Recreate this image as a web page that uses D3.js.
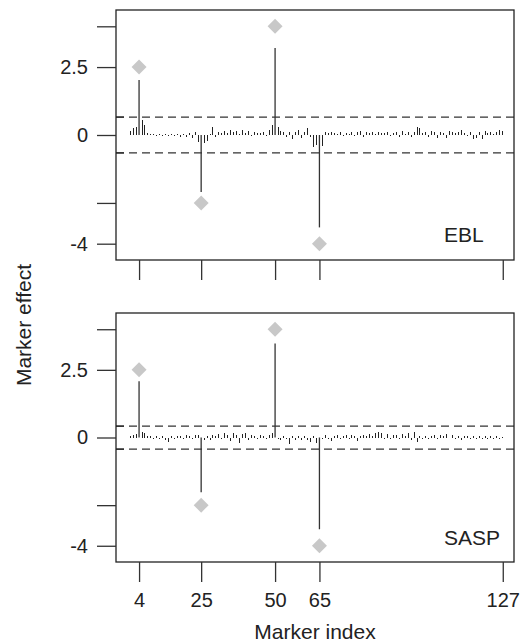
<!DOCTYPE html>
<html>
<head>
<meta charset="utf-8">
<script src="https://cdnjs.cloudflare.com/ajax/libs/d3/7.8.5/d3.min.js"></script>
<style>
  body { margin: 0; background: #fff; }
  text { font-family: "Liberation Sans", Arial, Helvetica, sans-serif; fill: #222; }
</style>
</head>
<body>
<svg id="chart" width="521" height="644"></svg>
<script>
// marker positions 1..127
const markerIndex = d3.range(1, 128);

// estimated marker effects, EBL panel
const eblEffects = [
  0.15, 0.25, 0.3, 2.02, 0.55, 0.35, 0.08, 0.05, 0.04, -0.03,
  0.03, -0.04, 0.02, -0.05, 0.03, -0.04, 0.05, -0.06, 0.04, -0.08,
  0.06, -0.1, 0.12, -0.25, -2.1, -0.3, -0.22, 0.05, 0.3, -0.08,
  0.12, 0.06, 0.15, 0.08, 0.18, 0.1, 0.16, 0.05, 0.2, 0.07,
  0.13, -0.05, 0.1, 0.06, 0.08, 0.12, -0.04, 0.18, 0.35, 3.2,
  0.3, 0.15, 0.1, -0.06, 0.12, -0.15, 0.1, 0.2, -0.1, 0.12,
  0.25, -0.08, -0.45, -0.35, -3.4, -0.4, 0.1, 0.08, 0.12, 0.06,
  0.05, 0.1, -0.04, 0.08, 0.05, 0.12, -0.05, 0.1, 0.15, -0.06,
  0.12, 0.08, 0.1, 0.05, 0.12, 0.08, 0.06, 0.1, -0.05, 0.08,
  0.12, -0.06, 0.15, 0.05, 0.1, -0.08, 0.1, 0.3, 0.25, 0.08,
  0.12, -0.06, 0.15, 0.1, -0.1, 0.12, 0.08, -0.12, 0.15, 0.1,
  0.06, 0.12, 0.2, 0.08, -0.05, 0.1, -0.15, -0.12, 0.1, -0.14,
  0.15, 0.08, 0.1, 0.05, 0.12, 0.18, 0.15
];

// estimated marker effects, SASP panel
const saspEffects = [
  0.05, 0.08, 0.12, 2.08, 0.2, 0.18, 0.05, 0.04, -0.05, 0.06,
  -0.04, 0.05, -0.08, -0.15, 0.04, -0.05, 0.06, 0.05, -0.04, 0.08,
  0.05, -0.06, 0.1, 0.08, -2.02, -0.1, 0.06, -0.08, 0.1, 0.06,
  0.12, -0.05, 0.15, 0.1, -0.12, 0.18, 0.08, -0.2, 0.12, 0.15,
  -0.1, 0.1, 0.06, -0.05, 0.08, 0.05, -0.06, 0.1, 0.15, 3.47,
  -0.05, -0.08, 0.05, -0.06, -0.25, 0.05, -0.08, 0.06, -0.1, 0.05,
  -0.08, -0.15, 0.04, -0.2, -3.39, -0.05, 0.08, -0.06, -0.12, 0.05,
  0.1, -0.04, 0.06, 0.08, -0.05, 0.1, 0.06, -0.12, 0.05, 0.08,
  0.06, 0.12, 0.04, 0.15, 0.2, 0.18, -0.05, 0.12, -0.06, 0.1,
  0.08, -0.05, 0.12, 0.06, 0.15, -0.1, 0.2, -0.15, 0.05, -0.04,
  0.06, -0.05, 0.04, 0.08, -0.04, 0.1, 0.05, 0.12, -0.03, 0.08,
  -0.05, 0.06, -0.08, 0.04, 0.05, -0.04, 0.06, -0.05, 0.04, -0.06,
  0.05, -0.04, 0.06, -0.05, 0.04, -0.05, 0.03
];

// simulated (true) QTL effects
const qtlMarkers = [4, 25, 50, 65];
const qtlTrue = [2.5, -2.5, 4, -4];

const eblThreshold = [0.66, -0.66];
const saspThreshold = [0.42, -0.43];

const yTicks = [4, 2.5, 0, -2.5, -4];
const yTickLabels = ["", "2.5", "0", "", "-4"];
const xTicks = [4, 25, 50, 65, 127];

const svg = d3.select("#chart");
const left = 116, right = 514;

const x = d3.scaleLinear().domain([-3.8, 130.8]).range([left, right]);

function drawPanel(cfg) {
  const g = svg.append("g").attr("class", "panel");
  const y = d3.scaleLinear().domain([-4.6, 4.6]).range([cfg.bottom, cfg.top]);
  const pts = cfg.effects.map((d, i) => ({ m: markerIndex[i], v: d }));

  // small effect stems
  g.append("g")
    .attr("shape-rendering", "crispEdges")
    .selectAll("line")
    .data(pts.filter(d => Math.abs(d.v) < 1))
    .enter().append("line")
      .attr("x1", d => x(d.m))
      .attr("x2", d => x(d.m))
      .attr("y1", y(0))
      .attr("y2", d => y(d.v))
      .attr("stroke", "#222")
      .attr("stroke-width", 1);

  // QTL stems
  g.append("g")
    .selectAll("line")
    .data(pts.filter(d => Math.abs(d.v) >= 1))
    .enter().append("line")
      .attr("x1", d => x(d.m))
      .attr("x2", d => x(d.m))
      .attr("y1", y(0))
      .attr("y2", d => y(d.v))
      .attr("stroke", "#333")
      .attr("stroke-width", 1.3);

  // threshold lines
  g.append("g")
    .selectAll("line")
    .data(cfg.threshold)
    .enter().append("line")
      .attr("x1", left)
      .attr("x2", right)
      .attr("y1", d => y(d))
      .attr("y2", d => y(d))
      .attr("stroke", "#333")
      .attr("stroke-width", 1.2)
      .attr("stroke-dasharray", "8,5");

  // small inner ticks at the thresholds
  g.append("g")
    .selectAll("line")
    .data(cfg.threshold)
    .enter().append("line")
      .attr("x1", left)
      .attr("x2", left + 8)
      .attr("y1", d => y(d))
      .attr("y2", d => y(d))
      .attr("stroke", "#222")
      .attr("stroke-width", 1.2);

  // true effects
  g.append("g")
    .selectAll("path")
    .data(qtlMarkers)
    .enter().append("path")
      .attr("d", d3.symbol(d3.symbolSquare, 112))
      .attr("transform", (d, i) => `translate(${x(d)},${y(qtlTrue[i])}) rotate(45)`)
      .attr("fill", "#c8c8c8");

  // box
  g.append("rect")
    .attr("x", left)
    .attr("y", cfg.top)
    .attr("width", right - left)
    .attr("height", cfg.bottom - cfg.top)
    .attr("fill", "none")
    .attr("stroke", "#222")
    .attr("stroke-width", 1.3);

  const yAxis = g.append("g")
    .attr("transform", `translate(${left},0)`)
    .call(d3.axisLeft(y).tickValues(yTicks).tickFormat((d, i) => yTickLabels[i]).tickSize(19).tickPadding(9));
  yAxis.select(".domain").remove();
  yAxis.selectAll("line").attr("stroke", "#333").attr("stroke-width", 1.3);
  yAxis.selectAll("text").attr("font-size", 20).attr("fill", "#222");

  const xAxis = g.append("g")
    .attr("transform", `translate(0,${cfg.bottom})`)
    .call(d3.axisBottom(x).tickValues(xTicks).tickSize(20).tickPadding(11)
      .tickFormat(cfg.xLabels ? d => d : ""));
  xAxis.select(".domain").remove();
  xAxis.selectAll("line").attr("stroke", "#333").attr("stroke-width", 1.3);
  xAxis.selectAll("text").attr("font-size", 20).attr("fill", "#222");

  g.append("text")
    .attr("x", 444)
    .attr("y", cfg.labelY)
    .attr("font-size", 21)
    .text(cfg.label);
}

drawPanel({ effects: eblEffects, threshold: eblThreshold, top: 10, bottom: 260, label: "EBL", labelY: 242, xLabels: false });
drawPanel({ effects: saspEffects, threshold: saspThreshold, top: 313, bottom: 562, label: "SASP", labelY: 545, xLabels: true });

svg.append("text")
  .attr("x", 315)
  .attr("y", 639)
  .attr("text-anchor", "middle")
  .attr("font-size", 21)
  .text("Marker index");

svg.append("text")
  .attr("transform", "translate(31,325) rotate(-90)")
  .attr("text-anchor", "middle")
  .attr("font-size", 21)
  .text("Marker effect");
</script>
</body>
</html>
